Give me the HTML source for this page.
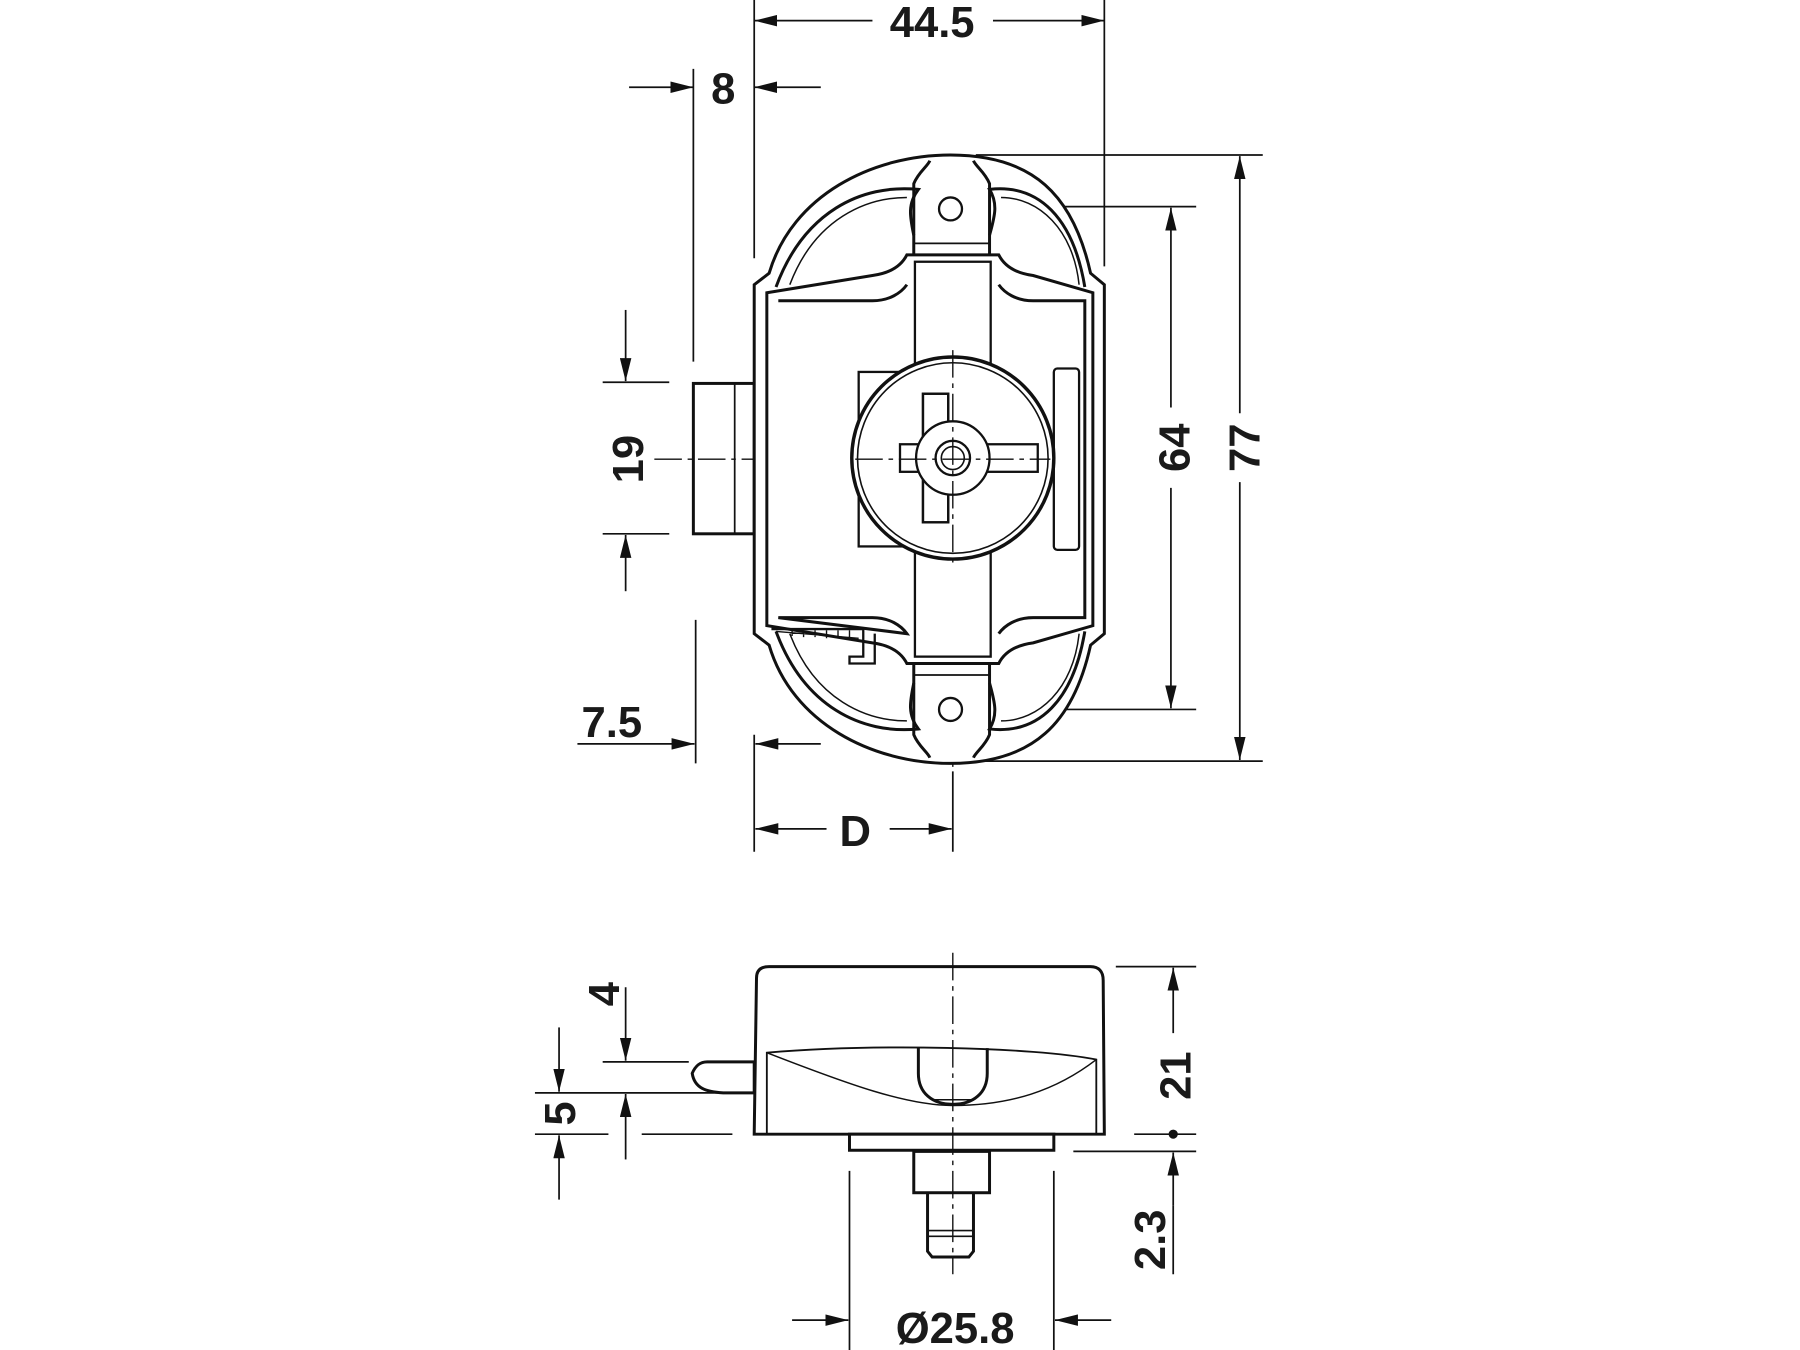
<!DOCTYPE html>
<html><head><meta charset="utf-8"><style>
html,body{margin:0;padding:0;background:#fff;}
svg{display:block;}
text{font-family:"Liberation Sans",sans-serif;font-weight:bold;font-size:38px;fill:#1a1a1a;}
</style></head><body>
<svg width="1800" height="1350" viewBox="0 0 1568 1176" preserveAspectRatio="none" xmlns="http://www.w3.org/2000/svg">
<defs>
<marker id="a" viewBox="0 0 20 10" refX="20" refY="5" markerWidth="20" markerHeight="10" markerUnits="userSpaceOnUse" orient="auto"><path d="M0,0 L20,5 L0,10 Z" fill="#111"/></marker>
</defs>
<g stroke="#111" fill="none" stroke-width="1.5">
<!-- extension lines top view -->
<line x1="657" y1="0" x2="657" y2="225"/>
<line x1="962" y1="0" x2="962" y2="232"/>
<line x1="604" y1="60" x2="604" y2="315"/>
<line x1="850" y1="135" x2="1100" y2="135"/>
<line x1="850" y1="663" x2="1100" y2="663"/>
<line x1="870" y1="180" x2="1042" y2="180"/>
<line x1="870" y1="618" x2="1042" y2="618"/>
<line x1="525" y1="333" x2="583" y2="333"/>
<line x1="525" y1="465" x2="583" y2="465"/>
<line x1="606" y1="540" x2="606" y2="665"/>
<line x1="657" y1="640" x2="657" y2="742"/>
<line x1="830" y1="672" x2="830" y2="742"/>
<!-- dim lines -->
<line x1="760" y1="18" x2="657" y2="18" marker-end="url(#a)"/>
<line x1="865" y1="18" x2="962" y2="18" marker-end="url(#a)"/>
<line x1="548" y1="76" x2="604" y2="76" marker-end="url(#a)"/>
<line x1="715" y1="76" x2="657" y2="76" marker-end="url(#a)"/>
<line x1="1080" y1="360" x2="1080" y2="136" marker-end="url(#a)"/>
<line x1="1080" y1="420" x2="1080" y2="662" marker-end="url(#a)"/>
<line x1="1020" y1="355" x2="1020" y2="181" marker-end="url(#a)"/>
<line x1="1020" y1="425" x2="1020" y2="617" marker-end="url(#a)"/>
<line x1="545" y1="270" x2="545" y2="332" marker-end="url(#a)"/>
<line x1="545" y1="515" x2="545" y2="466" marker-end="url(#a)"/>
<line x1="503" y1="648" x2="605" y2="648" marker-end="url(#a)"/>
<line x1="715" y1="648" x2="658" y2="648" marker-end="url(#a)"/>
<line x1="720" y1="722" x2="658" y2="722" marker-end="url(#a)"/>
<line x1="775" y1="722" x2="829" y2="722" marker-end="url(#a)"/>
<!-- centerlines -->
<line x1="570" y1="400" x2="915" y2="400" stroke-width="1.2" stroke-dasharray="24,5,4,5"/>
<line x1="830" y1="150" x2="830" y2="685" stroke-width="1.2" stroke-dasharray="24,5,4,5"/>
<line x1="790" y1="182" x2="885" y2="182" stroke-width="1.2" stroke-dasharray="20,4,4,4"/>
<line x1="790" y1="618" x2="885" y2="618" stroke-width="1.2" stroke-dasharray="20,4,4,4"/>
</g>
<g stroke="#111" fill="none" stroke-width="2.6">
<!-- bolt -->
<rect x="604" y="334" width="53" height="131"/>
<line x1="640" y1="334" x2="640" y2="465" stroke-width="1.5"/>
<!-- outer body -->
<path d="M657,248 L657,552 L670,562 C690,630 760,665 828,665 C900,665 935,630 950,562 L962,552 L962,248 L950,238 C935,170 900,135 828,135 C760,135 690,170 670,238 Z" fill="#fff"/>
<path d="M676,250 C700,185 750,160 800,165 C790,178 793,190 796,205"/>
<path d="M862,205 C866,190 870,178 862,165 C905,160 935,190 945,250"/>
<path d="M676,550 C700,615 750,640 800,635 C790,622 793,610 796,595"/>
<path d="M862,595 C866,610 870,622 862,635 C905,640 935,610 945,550"/>
<path d="M688,248 C710,190 755,172 790,172" stroke-width="1.3"/>
<path d="M872,172 C905,172 935,200 940,248" stroke-width="1.3"/>
<path d="M688,552 C710,610 755,628 790,628" stroke-width="1.3"/>
<path d="M872,628 C905,628 935,600 940,552" stroke-width="1.3"/>
<!-- frame -->
<path d="M668,255 L760,240 C775,238 785,232 790,222 L870,222 C875,232 885,238 900,240 L952,255 L952,545 L900,560 C885,562 875,568 870,578 L790,578 C785,568 775,562 760,560 L668,545 Z" fill="#fff"/>
<path d="M678,262 L760,262 C775,262 785,255 790,248 M870,248 C875,255 885,262 900,262 L945,262 L945,538 L900,538 C885,538 875,545 870,552 M790,552 C785,545 775,538 760,538 L678,538 Z" />
<rect x="797" y="228" width="66" height="344" stroke-width="2"/>
<!-- ear tabs -->
<path d="M796,222 L796,160 C800,150 808,145 810,140 M862,222 L862,160 C858,150 850,145 848,140"/>
<line x1="796" y1="212" x2="862" y2="212" stroke-width="1.5"/>
<path d="M796,578 L796,640 C800,650 808,655 810,660 M862,578 L862,640 C858,650 850,655 848,660"/>
<line x1="796" y1="588" x2="862" y2="588" stroke-width="1.5"/>
<circle cx="828" cy="182" r="10" stroke-width="2"/>
<circle cx="828" cy="618" r="10" stroke-width="2"/>
<!-- left block and slot -->
<rect x="748" y="324" width="40" height="152" fill="#fff" stroke-width="2"/>
<rect x="918" y="321" width="22" height="158" rx="3" fill="#fff" stroke-width="2"/>
<!-- scale marks bottom-left -->
<path d="M672,548 L752,548 L752,572 L740,572 L740,578 L762,578 L762,552" stroke-width="2"/>
<path d="M676,550 L748,556 M690,549 l0,5 M700,549 l0,6 M710,549 l0,6 M720,549 l0,7 M730,549 l0,7 M740,549 l0,8" stroke-width="1.2"/>
<!-- knob -->
<circle cx="830" cy="399" r="88" fill="#fff" stroke-width="3"/>
<circle cx="830" cy="399" r="83" stroke-width="1.4"/>
<rect x="804" y="343" width="22" height="112" stroke-width="2"/>
<rect x="784" y="387" width="120" height="24" stroke-width="2" fill="#fff"/>
<rect x="804" y="343" width="22" height="112" stroke-width="2" fill="none"/>
<circle cx="830" cy="399" r="32" fill="#fff" stroke-width="2"/>
<circle cx="830" cy="399" r="15" stroke-width="2"/>
<circle cx="830" cy="399" r="10" stroke-width="1.4"/>
<line x1="830" y1="305" x2="830" y2="495" stroke-width="1.2" stroke-dasharray="24,5,4,5"/>
<line x1="745" y1="400" x2="915" y2="400" stroke-width="1.2" stroke-dasharray="24,5,4,5"/>
</g>

<!-- bottom view -->
<g stroke="#111" fill="none" stroke-width="1.5">
<line x1="972" y1="842" x2="1042" y2="842"/>
<line x1="988" y1="988" x2="1042" y2="988"/>
<line x1="935" y1="1003" x2="1042" y2="1003"/>
<line x1="525" y1="925" x2="600" y2="925"/>
<line x1="466" y1="952" x2="657" y2="952"/>
<line x1="466" y1="988" x2="530" y2="988"/>
<line x1="559" y1="988" x2="638" y2="988"/>
<line x1="740" y1="1020" x2="740" y2="1176"/>
<line x1="918" y1="1020" x2="918" y2="1176"/>
<line x1="1022" y1="900" x2="1022" y2="843" marker-end="url(#a)"/>
<line x1="1022" y1="1050" x2="1022" y2="1004" marker-end="url(#a)"/>
<line x1="1022" y1="1050" x2="1022" y2="1110"/>
<line x1="545" y1="860" x2="545" y2="924" marker-end="url(#a)"/>
<line x1="545" y1="1010" x2="545" y2="953" marker-end="url(#a)"/>
<line x1="487" y1="895" x2="487" y2="951" marker-end="url(#a)"/>
<line x1="487" y1="1045" x2="487" y2="989" marker-end="url(#a)"/>
<line x1="690" y1="1150" x2="739" y2="1150" marker-end="url(#a)"/>
<line x1="968" y1="1150" x2="919" y2="1150" marker-end="url(#a)"/>
</g>
<circle cx="1022" cy="988" r="4" fill="#111"/>
<g stroke="#111" fill="none" stroke-width="2.6">
<path d="M603,935 C606,928 610,925 616,925 L657,925 L657,952 L630,952 C615,951 605,948 603,935 Z"/>
<path d="M657,988 L659,852 C659,845 663,842 670,842 L950,842 C957,842 961,846 961,854 L962,988 Z" fill="#fff"/>
<path d="M668,988 L668,917 C760,909 900,912 955,923 L955,988" stroke-width="1.6"/>
<path d="M668,917 C740,945 790,963 830,963 C880,963 920,950 955,923" stroke-width="1.3"/>
<path d="M800,912 L800,935 C800,952 812,962 830,962 C848,962 860,952 860,935 L860,913"/>
<line x1="812" y1="958" x2="848" y2="958" stroke-width="1.4"/>
<rect x="740" y="988" width="178" height="14" fill="#fff"/>
<rect x="796" y="1003" width="66" height="36" fill="#fff"/>
<path d="M808,1039 L808,1090 L812,1095 L844,1095 L848,1090 L848,1039"/>
<line x1="808" y1="1072" x2="848" y2="1072" stroke-width="1.4"/>
<line x1="808" y1="1077" x2="848" y2="1077" stroke-width="1.4"/>
<line x1="830" y1="830" x2="830" y2="1110" stroke-width="1.2" stroke-dasharray="24,5,4,5"/>
</g>

<!-- labels -->
<text x="812" y="32" text-anchor="middle">44.5</text>
<text x="630" y="90" text-anchor="middle">8</text>
<text x="533" y="642" text-anchor="middle">7.5</text>
<text x="745" y="737" text-anchor="middle">D</text>
<text transform="translate(1097,390) rotate(-90)" text-anchor="middle">77</text>
<text transform="translate(1036,390) rotate(-90)" text-anchor="middle">64</text>
<text transform="translate(560,400) rotate(-90)" text-anchor="middle">19</text>
<text transform="translate(539,866) rotate(-90)" text-anchor="middle">4</text>
<text transform="translate(501,970) rotate(-90)" text-anchor="middle">5</text>
<text transform="translate(1037,937) rotate(-90)" text-anchor="middle">21</text>
<text transform="translate(1015,1080) rotate(-90)" text-anchor="middle">2.3</text>
<text x="832" y="1170" text-anchor="middle">Ø25.8</text>
</svg>
</body></html>
